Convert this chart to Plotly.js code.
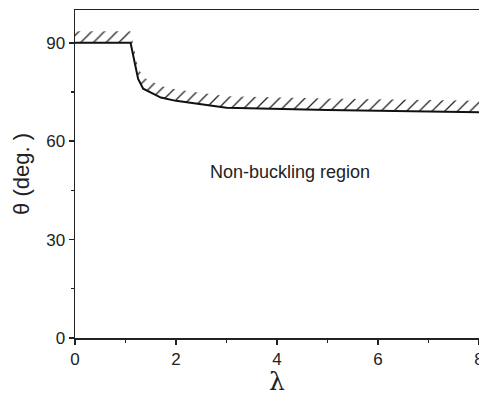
<!DOCTYPE html>
<html><head><meta charset="utf-8">
<script src="https://cdn.plot.ly/plotly-3.0.1.min.js"></script>
<style>body{margin:0;padding:0;background:#fff}#c{width:479px;height:396px}</style>
</head><body><div id="c"></div>
<script>
const lambda = [0, 1.1, 1.25, 1.35, 1.7, 2, 3, 4, 5, 6, 7, 8];
const theta  = [90, 90, 79, 76, 73.3, 72.3, 70.2, 69.8, 69.5, 69.3, 69.0, 68.8];
const hatchWidth = 3.5;
const hatchTop = theta.map(v => v + hatchWidth);
const xTicks = [0, 2, 4, 6, 8];
const yTicks = [0, 30, 60, 90];
const regionLabel = "Non-buckling region";

const traces = [
  {x: lambda, y: hatchTop, mode: 'lines', line: {width: 0, color: 'rgba(0,0,0,0)'}, hoverinfo: 'skip', showlegend: false},
  {x: lambda, y: theta, mode: 'lines', fill: 'tonexty', fillcolor: 'rgba(0,0,0,0)',
   fillpattern: {shape: '/', size: 9, solidity: 0.14, fgcolor: '#222', bgcolor: 'rgba(255,255,255,0)'},
   line: {color: '#111', width: 2}, showlegend: false}
];

const font = {family: 'Liberation Sans, Arial, sans-serif', color: '#222'};
const layout = {
  width: 479, height: 396,
  margin: {l: 75, r: 0, t: 10, b: 58},
  paper_bgcolor: '#fff', plot_bgcolor: '#fff',
  showlegend: false,
  font: font,
  xaxis: {
    range: [0, 8], tickvals: xTicks, ticktext: xTicks.map(String),
    showgrid: false, zeroline: false, showline: true, mirror: true,
    linecolor: '#222', linewidth: 1.5, ticks: 'outside', ticklen: 5, tickwidth: 1.5, tickcolor: '#222',
    tickfont: {size: 17, family: font.family, color: '#222'}, ticklabeloverflow: 'allow',
    minor: {dtick: 1, tick0: 0, ticks: 'outside', ticklen: 3, tickwidth: 1.2, tickcolor: '#222', showgrid: false},
    title: {text: 'λ', font: {size: 25, family: 'DejaVu Serif, serif', color: '#222'}, standoff: 8}
  },
  yaxis: {
    range: [0, 100], tickvals: yTicks, ticktext: yTicks.map(String),
    showgrid: false, zeroline: false, showline: true, mirror: true,
    linecolor: '#222', linewidth: 1.5, ticks: 'outside', ticklen: 5, tickwidth: 1.5, tickcolor: '#222',
    tickfont: {size: 17, family: font.family, color: '#222'},
    minor: {dtick: 15, tick0: 0, ticks: 'outside', ticklen: 3, tickwidth: 1.2, tickcolor: '#222', showgrid: false},
    title: {text: 'θ (deg. )', font: {size: 22, family: font.family, color: '#222'}, standoff: 10}
  },
  annotations: [{x: 4.25, y: 50.5, xref: 'x', yref: 'y', text: regionLabel, showarrow: false,
    font: {size: 18, family: font.family, color: '#222'}}]
};
Plotly.newPlot('c', traces, layout, {staticPlot: true, displayModeBar: false});
</script></body></html>
